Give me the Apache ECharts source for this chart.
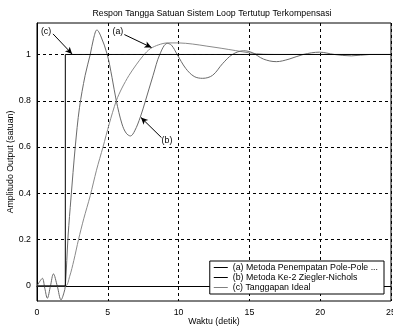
<!DOCTYPE html>
<html>
<head>
<meta charset="utf-8">
<script src="https://cdn.jsdelivr.net/npm/echarts@6/dist/echarts.min.js"></script>
<style>
  html, body { margin: 0; padding: 0; background: #fff; }
  #chart { width: 393px; height: 327px; }
</style>
</head>
<body>
<div id="chart"></div>
<script>
// (a) pole placement response
const timeA = [0, 2.0, 2.3, 2.6, 2.93, 3.3, 3.76, 4.2, 4.66, 5.1, 5.6, 6.0, 6.5, 7.0, 7.5, 8.0, 8.6, 9.2, 10.0, 11.0, 12.0, 13.0, 14.0, 15.0, 16.0, 17.5, 25];
const valA  = [0, 0, 0.04, 0.11, 0.2, 0.29, 0.39, 0.5, 0.6, 0.7, 0.80, 0.855, 0.91, 0.955, 0.995, 1.025, 1.042, 1.05, 1.05, 1.045, 1.036, 1.027, 1.017, 1.007, 1.001, 1.0, 1.0];

// (b) second Ziegler-Nichols method response
const timeB = [0, 0.2, 0.38, 0.55, 0.73, 0.95, 1.16, 1.43, 1.7, 1.9, 2.0, 2.2, 2.4, 2.7, 3.0, 3.4, 3.76, 4.0, 4.23, 4.5, 4.96, 5.3, 5.6, 6.0, 6.3, 6.6, 6.9, 7.3, 7.66, 8.2, 8.67, 9.2, 9.5, 9.9, 10.5, 11.1, 11.7, 12.4, 13.1, 13.8, 14.6, 15.2, 16.0, 16.9, 17.8, 18.8, 19.95, 21.0, 22.2, 23.5, 25];
const valB  = [0, 0.02, 0.033, -0.01, -0.053, 0.0, 0.052, 0.0, -0.06, -0.03, 0, 0.22, 0.38, 0.6, 0.77, 0.91, 1.0, 1.07, 1.106, 1.08, 1.0, 0.9, 0.80, 0.7, 0.66, 0.648, 0.67, 0.73, 0.80, 0.91, 1.0, 1.048, 1.04, 1.0, 0.94, 0.905, 0.897, 0.91, 0.96, 1.0, 1.016, 1.008, 0.98, 0.969, 0.98, 1.0, 1.01, 1.0, 0.994, 1.0, 1.0];

// (c) ideal unit step delayed by 2 s
const timeC = [0, 2, 2, 25];
const valC  = [0, 0, 1, 1];

const seriesNames = ['(a) Metoda Penempatan Pole-Pole ...', '(b) Metoda Ke-2 Ziegler-Nichols', '(c) Tanggapan Ideal'];
const xTicks = [0, 5, 10, 15, 20, 25];
const yTicks = [0, 0.2, 0.4, 0.6, 0.8, 1];

// callout arrows: [label, label position, arrow tail, arrow tip] in data units
const callouts = [
  ['(c)', [0.64, 1.100], [1.13, 1.089], [2.48, 1.002]],
  ['(a)', [5.71, 1.098], [6.17, 1.086], [8.09, 1.030]],
  ['(b)', [9.18, 0.626], [8.79, 0.641], [7.34, 0.728]]
];

const zip = (t, v) => t.map((x, i) => [x, v[i]]);
const FONT = 'Liberation Sans, Arial, sans-serif';
const FS = 8.8;

const chart = echarts.init(document.getElementById('chart'));
chart.setOption({
  animation: false,
  title: {
    text: 'Respon Tangga Satuan Sistem Loop Tertutup Terkompensasi',
    left: 212, top: 9, padding: 0, textAlign: 'center',
    textStyle: { fontFamily: FONT, fontSize: FS, fontWeight: 'normal', color: '#000' }
  },
  grid: {
    left: 37, top: 23, right: 2, bottom: 26,
    containLabel: false, outerBoundsMode: 'none',
    show: true, borderColor: '#000', borderWidth: 1
  },
  legend: {
    orient: 'vertical', right: 9, bottom: 33,
    backgroundColor: '#fff', borderColor: '#000', borderWidth: 1,
    padding: [2, 6, 2, 4], itemGap: 1, itemWidth: 14, itemHeight: 1,
    icon: 'rect',
    textStyle: { fontFamily: FONT, fontSize: FS, color: '#000', lineHeight: 9 },
    data: [
      { name: seriesNames[0], itemStyle: { color: '#000' } },
      { name: seriesNames[1], itemStyle: { color: '#000' } },
      { name: seriesNames[2], itemStyle: { color: '#808080' } }
    ]
  },
  xAxis: {
    type: 'value', min: 0, max: 25, interval: 5,
    name: 'Waktu (detik)', nameLocation: 'middle', nameGap: 16, nameMoveOverlap: false,
    nameTextStyle: { fontFamily: FONT, fontSize: FS, color: '#000' },
    axisLine: { show: true, lineStyle: { color: '#000' } },
    axisTick: { show: false },
    axisLabel: { fontFamily: FONT, fontSize: FS, color: '#000', margin: 7 },
    splitLine: { show: true, lineStyle: { color: '#000', type: [3, 3], width: 1 } }
  },
  yAxis: {
    type: 'value', min: -0.065, max: 1.136,
    name: 'Amplitudo Output (satuan)', nameLocation: 'middle', nameGap: 22, nameMoveOverlap: false,
    nameTextStyle: { fontFamily: FONT, fontSize: FS, color: '#000' },
    axisLine: { show: true, lineStyle: { color: '#000' } },
    axisTick: { show: false, customValues: yTicks },
    axisLabel: { fontFamily: FONT, fontSize: FS, color: '#000', margin: 6, customValues: yTicks },
    splitLine: { show: true, lineStyle: { color: '#000', type: [3, 3], width: 1 } }
  },
  series: [
    {
      name: seriesNames[0], type: 'line', data: zip(timeA, valA),
      smooth: 0.3, showSymbol: false, lineStyle: { color: '#8a8a8a', width: 1 }, itemStyle: { color: '#8a8a8a' }, z: 3
    },
    {
      name: seriesNames[1], type: 'line', data: zip(timeB, valB),
      smooth: 0.35, showSymbol: false, lineStyle: { color: '#6a6a6a', width: 1 }, itemStyle: { color: '#6a6a6a' }, z: 3
    },
    {
      name: seriesNames[2], type: 'line', data: zip(timeC, valC),
      showSymbol: false, lineStyle: { color: '#000', width: 1 }, itemStyle: { color: '#000' }, z: 4,
      markLine: {
        silent: true, symbol: ['none', 'arrow'], symbolSize: [5, 7],
        label: { show: false },
        lineStyle: { color: '#000', width: 1, type: 'solid' },
        data: callouts.map(c => [{ coord: c[2] }, { coord: c[3] }])
      },
      markPoint: {
        silent: true, symbol: 'circle', symbolSize: 0,
        label: { show: true, position: 'inside', formatter: '{b}', fontFamily: FONT, fontSize: FS, color: '#000' },
        data: callouts.map(c => ({ name: c[0], coord: c[1] }))
      }
    }
  ]
});
</script>
</body>
</html>
